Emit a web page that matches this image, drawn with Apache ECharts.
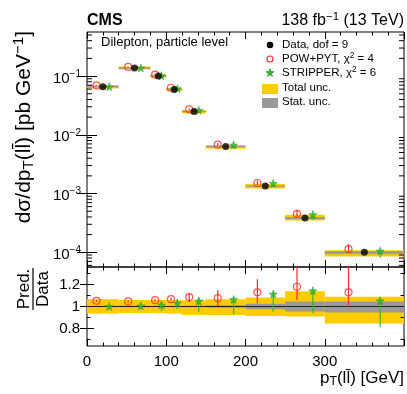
<!DOCTYPE html>
<html>
<head>
<meta charset="utf-8">
<script src="https://cdn.jsdelivr.net/npm/echarts@6/dist/echarts.min.js"></script>
<style>
  html, body { margin: 0; padding: 0; background: #fff; }
  #chart { width: 407px; height: 394px; }
</style>
</head>
<body>
<div id="chart"></div>
<script>
// bins of pT(ll) in GeV
const binEdges = [0, 40, 80, 100, 120, 150, 200, 250, 300, 400];
// measured cross section, pb/GeV
const dataVals = [0.0658, 0.137, 0.100, 0.0593, 0.0250, 0.0063, 0.00134, 0.000383, 0.000100];
// relative uncertainties of the measurement
const totUp = [0.067, 0.060, 0.060, 0.058, 0.057, 0.067, 0.083, 0.138, 0.088];
const totDn = [0.065, 0.060, 0.060, 0.065, 0.077, 0.077, 0.087, 0.090, 0.154];
const statUp = [0.005, 0.005, 0.005, 0.006, 0.007, 0.012, 0.025, 0.045, 0.046];
const statDn = [0.005, 0.005, 0.005, 0.006, 0.007, 0.012, 0.025, 0.045, 0.055];
// predictions / data
const powRatio = [1.052, 1.046, 1.058, 1.067, 1.086, 1.077, 1.129, 1.180, 1.129];
const powErrUp = [0.010, 0.010, 0.012, 0.015, 0.035, 0.072, 0.120, 0.200, 0.250];
const powErrDn = [0.010, 0.010, 0.012, 0.015, 0.045, 0.072, 0.100, 0.120, 0.140];
const stripRatio = [1.000, 1.005, 1.013, 1.030, 1.050, 1.064, 1.113, 1.144, 1.052];
const stripErrUp = [0.008, 0.008, 0.033, 0.037, 0.033, 0.020, 0.017, 0.016, 0.015];
const stripErrDn = [0.010, 0.015, 0.053, 0.055, 0.100, 0.135, 0.160, 0.206, 0.240];
// axis tick labels
const logTicks = [1e-4, 1e-3, 1e-2, 1e-1];
const ratioTicks = [0.8, 1, 1.2];

const xMin = 0, xMax = 400;
const yMin = Math.pow(10, -4.25), yMax = Math.pow(10, -0.25);
const rMin = 0.64, rMax = 1.36;

const FONT = '"Liberation Sans", Arial, Helvetica, sans-serif';
const YELLOW = '#ffcc00';
const GREY = '#999999';
const RED = '#ff2a2a';
const GREEN = '#2eb82e';
const STAR = 'path://M0,-10L2.35,-3.24L9.51,-3.09L3.8,1.24L5.88,8.09L0,4L-5.88,8.09L-3.8,1.24L-9.51,-3.09L-2.35,-3.24Z';

const nBins = dataVals.length;
const lo = binEdges.slice(0, nBins);
const hi = binEdges.slice(1);
const centers = lo.map((l, i) => (l + hi[i]) / 2);
const offs = lo.map((l, i) => 0.2 * (hi[i] - l));

// log minor tick positions inside the y range
const logMinor = [];
for (let n = -5; n <= 0; n++) {
  for (let k = 2; k <= 9; k++) {
    const v = k * Math.pow(10, n);
    if (v > yMin && v < yMax) logMinor.push([0, v]);
  }
}
const ratioMinor = [0.7, 0.9, 1.1, 1.3].map(v => [0, v]);

function tickSeries(xi, yi, data, len) {
  return {
    type: 'custom', xAxisIndex: xi, yAxisIndex: yi, silent: true, z: 10,
    data: data,
    renderItem: (params, api) => {
      const a = api.coord([xMin, api.value(1)]);
      const b = api.coord([xMax, api.value(1)]);
      return {
        type: 'group', children: [
          { type: 'line', shape: { x1: a[0], y1: a[1], x2: a[0] + len, y2: a[1] }, style: { stroke: '#000', lineWidth: 1 } },
          { type: 'line', shape: { x1: b[0] - len, y1: b[1], x2: b[0], y2: b[1] }, style: { stroke: '#000', lineWidth: 1 } }
        ]
      };
    }
  };
}

function bandSeries(xi, yi, rows) {
  return {
    type: 'custom', xAxisIndex: xi, yAxisIndex: yi, silent: true, z: 1,
    encode: { x: [0, 1], y: [2, 3] },
    data: rows,
    renderItem: (params, api) => {
      const p1 = api.coord([api.value(0), api.value(2)]);
      const p2 = api.coord([api.value(1), api.value(3)]);
      const s1 = api.coord([api.value(0), api.value(4)]);
      const s2 = api.coord([api.value(1), api.value(5)]);
      let sh = Math.abs(s2[1] - s1[1]);
      let sy = Math.min(s1[1], s2[1]);
      if (sh < 1.4) { sy = (s1[1] + s2[1]) / 2 - 0.7; sh = 1.4; }
      return {
        type: 'group', children: [
          { type: 'rect', shape: { x: p1[0], y: Math.min(p1[1], p2[1]), width: p2[0] - p1[0], height: Math.abs(p2[1] - p1[1]) }, style: { fill: YELLOW } },
          { type: 'rect', shape: { x: s1[0], y: sy, width: s2[0] - s1[0], height: sh }, style: { fill: GREY } }
        ]
      };
    }
  };
}

function errSeries(xi, yi, rows, color) {
  return {
    type: 'custom', xAxisIndex: xi, yAxisIndex: yi, silent: true, z: 4, clip: true,
    encode: { x: 0, y: [1, 2] },
    data: rows,
    renderItem: (params, api) => {
      const a = api.coord([api.value(0), api.value(1)]);
      const b = api.coord([api.value(0), api.value(2)]);
      return { type: 'line', shape: { x1: a[0], y1: a[1], x2: b[0], y2: b[1] }, style: { stroke: color, lineWidth: 1.2 } };
    }
  };
}

const mainBands = dataVals.map((v, i) => [lo[i], hi[i], v * (1 - totDn[i]), v * (1 + totUp[i]), v * (1 - statDn[i]), v * (1 + statUp[i])]);
const ratioBands = dataVals.map((v, i) => [lo[i], hi[i], 1 - totDn[i], 1 + totUp[i], 1 - statDn[i], 1 + statUp[i]]);

const powMain = dataVals.map((v, i) => [centers[i] - offs[i], v * powRatio[i]]);
const stripMain = dataVals.map((v, i) => [centers[i] + offs[i], v * stripRatio[i]]);
const powMainErr = dataVals.map((v, i) => [centers[i] - offs[i], v * (powRatio[i] - powErrDn[i]), v * (powRatio[i] + powErrUp[i])]);
const stripMainErr = dataVals.map((v, i) => [centers[i] + offs[i], v * (stripRatio[i] - stripErrDn[i]), v * (stripRatio[i] + stripErrUp[i])]);
const powR = powRatio.map((r, i) => [centers[i] - offs[i], r]);
const stripR = stripRatio.map((r, i) => [centers[i] + offs[i], r]);
const powRErr = powRatio.map((r, i) => [centers[i] - offs[i], r - powErrDn[i], r + powErrUp[i]]);
const stripRErr = stripRatio.map((r, i) => [centers[i] + offs[i], r - stripErrDn[i], r + stripErrUp[i]]);

function xAx(gi, pos, labels) {
  return {
    type: 'value', gridIndex: gi, position: pos, min: xMin, max: xMax, interval: 100,
    axisLine: { show: false },
    axisTick: { show: true, inside: true, length: 7, lineStyle: { color: '#000', width: 1 } },
    minorTick: { show: true, splitNumber: 5, length: 3.5, lineStyle: { color: '#000', width: 1 } },
    splitLine: { show: false },
    axisLabel: { show: labels, fontFamily: FONT, fontSize: 15, color: '#000', margin: 8,
                 showMaxLabel: false }
  };
}

const supRich = {
  b: { fontFamily: FONT, fontSize: 15, color: '#000' },
  s: { fontFamily: FONT, fontSize: 10, color: '#000', padding: [0, 0, 9, 0] }
};

function yLog(pos, labels) {
  return {
    type: 'log', logBase: 10, gridIndex: 0, position: pos, min: yMin, max: yMax,
    axisLine: { show: false },
    axisTick: { show: true, inside: true, length: 10, customValues: logTicks, lineStyle: { color: '#000', width: 1 } },
    splitLine: { show: false },
    axisLabel: {
      show: labels, margin: 6, customValues: logTicks, padding: [5, 0, 0, 0],
      formatter: v => '{b|10}{s|\u2212' + Math.abs(Math.round(Math.log10(v))) + '}',
      rich: supRich
    }
  };
}

function yRatio(pos, labels) {
  return {
    type: 'value', gridIndex: 1, position: pos, min: rMin, max: rMax,
    axisLine: { show: false },
    axisTick: { show: true, inside: true, length: 7, customValues: ratioTicks, lineStyle: { color: '#000', width: 1 } },
    splitLine: { show: false },
    axisLabel: { show: labels, fontFamily: FONT, fontSize: 15, color: '#000', margin: 7,
                 customValues: ratioTicks }
  };
}

const txt = (text, x, y, size, extra) => ({
  type: 'text', x: x, y: y, silent: true,
  style: Object.assign({ text: text, fill: '#000', fontFamily: FONT, fontSize: size, verticalAlign: 'middle' }, extra || {})
});
const subRich = size => ({
  sub: { fontFamily: FONT, fontSize: size * 0.72, padding: [size * 0.45, 0, 0, 0], fill: '#000' },
  sup: { fontFamily: FONT, fontSize: size * 0.72, padding: [0, 0, size * 0.5, 0], fill: '#000' }
});

// star glyph for the legend, centred on (cx, cy)
function starPoints(cx, cy, r) {
  const pts = [];
  for (let k = 0; k < 10; k++) {
    const rr = k % 2 === 0 ? r : r * 0.4;
    const a = -Math.PI / 2 + k * Math.PI / 5;
    pts.push([cx + rr * Math.cos(a), cy + rr * Math.sin(a)]);
  }
  return pts;
}

const legendX = 270, legendText = 282;

const ytitle = txt('d\u03c3/dp{sub|T}(ll\u0304) [pb GeV{sup|\u22121}]', 24, 31, 21, { align: 'right', rich: subRich(21) });
ytitle.rotation = Math.PI / 2;

const option = {
  animation: false,
  backgroundColor: '#fff',
  grid: [
    { left: 87, right: 3, top: 32, height: 235, show: true, borderColor: '#000', borderWidth: 1, backgroundColor: 'transparent' },
    { left: 87, right: 3, top: 267, height: 79, show: true, borderColor: '#000', borderWidth: 1, backgroundColor: 'transparent' }
  ],
  xAxis: [xAx(0, 'bottom', false), xAx(0, 'top', false), xAx(1, 'bottom', true), xAx(1, 'top', false)],
  yAxis: [yLog('left', true), yLog('right', false), yRatio('left', true), yRatio('right', false)],
  series: [
    bandSeries(0, 0, mainBands),
    tickSeries(0, 0, logMinor, 5),
    errSeries(0, 0, powMainErr, RED),
    errSeries(0, 0, stripMainErr, GREEN),
    { type: 'scatter', xAxisIndex: 0, yAxisIndex: 0, z: 5, symbol: 'circle', symbolSize: 7,
      itemStyle: { color: 'transparent', borderColor: RED, borderWidth: 1.2 }, data: powMain },
    { type: 'scatter', xAxisIndex: 0, yAxisIndex: 0, z: 5, symbol: STAR, symbolSize: 8,
      itemStyle: { color: GREEN, borderColor: '#1f8f1f', borderWidth: 0.6 }, data: stripMain },
    { type: 'scatter', xAxisIndex: 0, yAxisIndex: 0, z: 6, symbol: 'circle', symbolSize: 7,
      itemStyle: { color: '#000' }, data: centers.map((c, i) => [c, dataVals[i]]) },

    bandSeries(2, 2, ratioBands),
    tickSeries(2, 2, ratioMinor, 3.5),
    { type: 'line', xAxisIndex: 2, yAxisIndex: 2, z: 3, symbol: 'none', silent: true,
      lineStyle: { color: '#222', width: 1 }, data: [[xMin, 1], [xMax, 1]] },
    errSeries(2, 2, powRErr, RED),
    errSeries(2, 2, stripRErr, GREEN),
    { type: 'scatter', xAxisIndex: 2, yAxisIndex: 2, z: 5, symbol: 'circle', symbolSize: 7,
      itemStyle: { color: 'transparent', borderColor: RED, borderWidth: 1.2 }, data: powR },
    { type: 'scatter', xAxisIndex: 2, yAxisIndex: 2, z: 5, symbol: STAR, symbolSize: 8,
      itemStyle: { color: GREEN, borderColor: '#1f8f1f', borderWidth: 0.6 }, data: stripR }
  ],
  graphic: [
    txt('CMS', 87, 21, 16, { fontWeight: 'bold' }),
    txt('138 fb{sup|\u22121} (13 TeV)', 404, 21, 16, { align: 'right', rich: subRich(16) }),
    txt('Dilepton, particle level', 101, 42, 13),
    // legend
    { type: 'circle', silent: true, shape: { cx: legendX, cy: 45, r: 3.3 }, style: { fill: '#000' } },
    txt('Data, dof = 9', legendText, 45, 11.5),
    { type: 'circle', silent: true, shape: { cx: legendX, cy: 59, r: 3 }, style: { fill: 'none', stroke: RED, lineWidth: 1.2 } },
    txt('POW+PYT, \u03c7{sup|2} = 4', legendText, 59, 11.5, { rich: subRich(11.5) }),
    { type: 'polygon', silent: true, shape: { points: starPoints(legendX, 73, 4.3) },
      style: { fill: GREEN, stroke: '#1f8f1f', lineWidth: 0.6 } },
    txt('STRIPPER, \u03c7{sup|2} = 6', legendText, 73, 11.5, { rich: subRich(11.5) }),
    { type: 'rect', silent: true, shape: { x: 262, y: 84, width: 16, height: 10 }, style: { fill: YELLOW } },
    txt('Total unc.', legendText, 88, 11.5),
    { type: 'rect', silent: true, shape: { x: 262, y: 98, width: 16, height: 10 }, style: { fill: GREY } },
    txt('Stat. unc.', legendText, 102, 11.5),
    // axis titles
    ytitle,
    txt('p{sub|T}(ll\u0304) [GeV]', 404, 378, 17, { align: 'right', rich: subRich(17) }),
    {
      type: 'group', x: 33, y: 289, rotation: Math.PI / 2, silent: true,
      children: [
        txt('Pred.', 0, -9, 17, { align: 'center' }),
        { type: 'line', shape: { x1: -21, y1: 0, x2: 21, y2: 0 }, style: { stroke: '#000', lineWidth: 1.2 } },
        txt('Data', 0, 10, 17, { align: 'center' })
      ]
    }
  ]
};

const chart = echarts.init(document.getElementById('chart'));
chart.setOption(option);
</script>
</body>
</html>
